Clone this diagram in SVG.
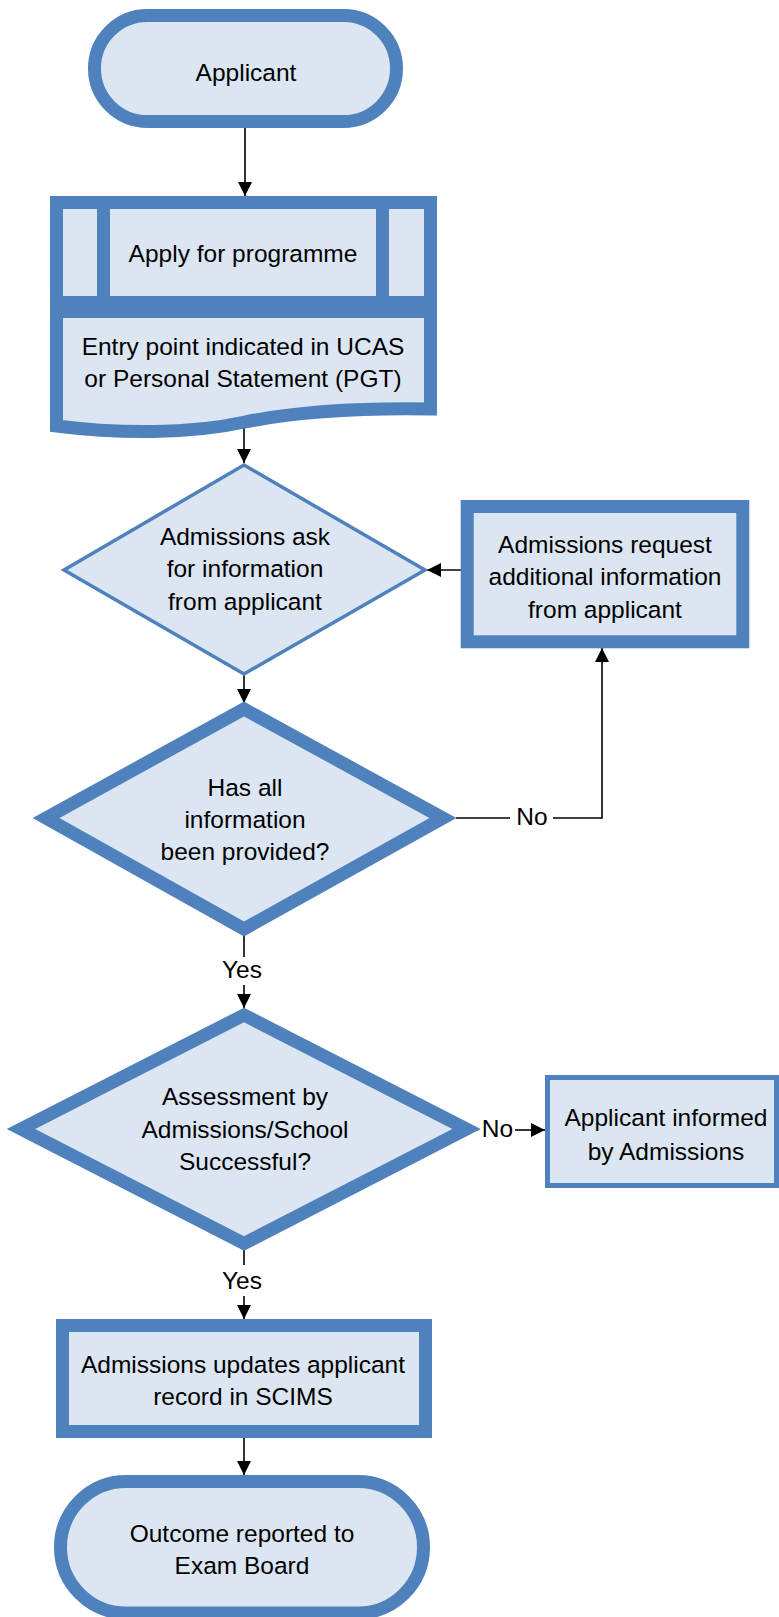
<svg xmlns="http://www.w3.org/2000/svg" width="779" height="1617" viewBox="0 0 779 1617">
<style>
.s{fill:#DCE6F2;stroke:#4F81BD;stroke-width:13;stroke-linejoin:miter}
.t{fill:#DCE6F2;stroke:#4F81BD;stroke-width:3.5}
.m{fill:#DCE6F2;stroke:#4F81BD;stroke-width:5}
text{font-family:"Liberation Sans",Arial,sans-serif;font-size:24.5px;fill:#000;text-anchor:middle}
.c{fill:none;stroke:#000;stroke-width:1.6}
</style>
<defs>
<marker id="ah" markerUnits="userSpaceOnUse" markerWidth="14" markerHeight="14" refX="14" refY="7" orient="auto">
<path d="M0,0 L14,7 L0,14 z" fill="#000"/>
</marker>
</defs>
<rect width="779" height="1617" fill="#fff"/>
<g id="connectors">
<line class="c" x1="245" y1="122" x2="245" y2="196" marker-end="url(#ah)"/>
<line class="c" x1="244" y1="428" x2="244" y2="463" marker-end="url(#ah)"/>
<line class="c" x1="244" y1="675" x2="244" y2="703" marker-end="url(#ah)"/>
<line class="c" x1="461" y1="570" x2="427" y2="570" marker-end="url(#ah)"/>
<line class="c" x1="456" y1="818" x2="510" y2="818"/>
<polyline class="c" points="553,818 602,818 602,648" marker-end="url(#ah)"/>
<line class="c" x1="244" y1="932" x2="244" y2="957"/>
<line class="c" x1="244" y1="985" x2="244" y2="1008" marker-end="url(#ah)"/>
<line class="c" x1="466" y1="1130" x2="478" y2="1130"/>
<line class="c" x1="515" y1="1130" x2="545" y2="1130" marker-end="url(#ah)"/>
<line class="c" x1="244" y1="1245" x2="244" y2="1265"/>
<line class="c" x1="244" y1="1296" x2="244" y2="1319" marker-end="url(#ah)"/>
<line class="c" x1="244" y1="1438" x2="244" y2="1475" marker-end="url(#ah)"/>
<text x="532" y="825">No</text>
<text x="242" y="978">Yes</text>
<text x="497.5" y="1137">No</text>
<text x="242" y="1289">Yes</text>
</g>
<g id="applicant">
<rect class="s" x="94.5" y="15.5" width="302" height="106" rx="53" ry="53"/>
<text x="246" y="81">Applicant</text>
</g>
<g id="entry-point">
<path class="s" d="M56.5,311.5 H430.5 V409 C370,408 300,411 245,422 C190,434 120,434 56.5,426 Z"/>
<text x="243" y="355">Entry point indicated in UCAS</text>
<text x="243" y="387">or Personal Statement (PGT)</text>
</g>
<g id="apply">
<rect class="s" x="56.5" y="202.5" width="374" height="100"/>
<line x1="103.5" y1="202.5" x2="103.5" y2="302.5" stroke="#4F81BD" stroke-width="13"/>
<line x1="382.5" y1="202.5" x2="382.5" y2="302.5" stroke="#4F81BD" stroke-width="13"/>
<text x="243" y="262">Apply for programme</text>
</g>
<g id="ask-info">
<polygon class="t" points="244,465 425,570 244,674 64,570"/>
<text x="245" y="545">Admissions ask</text>
<text x="245" y="577">for information</text>
<text x="245" y="610">from applicant</text>
</g>
<g id="request-info">
<rect class="s" x="467.2" y="506.5" width="275.6" height="135.3"/>
<text x="605" y="553">Admissions request</text>
<text x="605" y="585">additional information</text>
<text x="605" y="618">from applicant</text>
</g>
<g id="all-info">
<polygon class="s" points="244,709 443,818 244,929 46,818"/>
<text x="245" y="796">Has all</text>
<text x="245" y="828">information</text>
<text x="245" y="860">been provided?</text>
</g>
<g id="assessment">
<polygon class="s" points="244,1015 466.5,1129 244,1243.5 21,1129"/>
<text x="245" y="1105">Assessment by</text>
<text x="245" y="1138">Admissions/School</text>
<text x="245" y="1170">Successful?</text>
</g>
<g id="informed">
<rect class="m" x="547.5" y="1077.5" width="229" height="108"/>
<text x="666" y="1126">Applicant informed</text>
<text x="666" y="1160">by Admissions</text>
</g>
<g id="updates">
<rect class="s" x="62.5" y="1325.5" width="363" height="106"/>
<text x="243" y="1373">Admissions updates applicant</text>
<text x="243" y="1405">record in SCIMS</text>
</g>
<g id="outcome">
<rect class="s" x="60.5" y="1481.5" width="363" height="131.5" rx="65.7" ry="65.7"/>
<text x="242" y="1542">Outcome reported to</text>
<text x="242" y="1574">Exam Board</text>
</g>
</svg>
